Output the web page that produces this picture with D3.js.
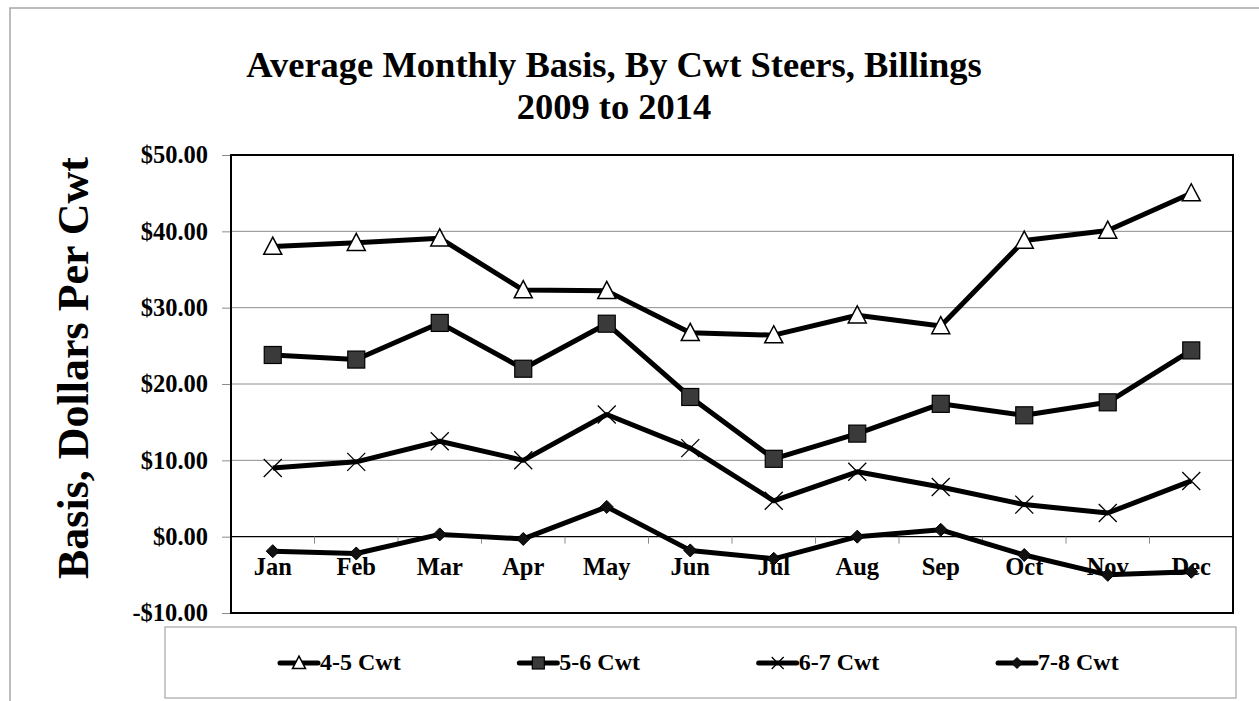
<!DOCTYPE html>
<html>
<head>
<meta charset="utf-8">
<script src="https://cdn.jsdelivr.net/npm/d3@7"></script>
<style>
  body { margin: 0; background: #fff; overflow: hidden; }
  svg { display: block; }
  text { font-family: "Liberation Serif", "Times New Roman", serif; font-weight: bold; fill: #000; }
</style>
</head>
<body>
<div id="chart"></div>
<script>
// ---------------- data ----------------
const months = ["Jan", "Feb", "Mar", "Apr", "May", "Jun", "Jul", "Aug", "Sep", "Oct", "Nov", "Dec"];
const cwt45 = [38.0, 38.5, 39.1, 32.3, 32.2, 26.7, 26.4, 29.0, 27.6, 38.8, 40.1, 45.0];
const cwt56 = [23.8, 23.2, 28.0, 22.0, 27.9, 18.3, 10.2, 13.5, 17.4, 15.9, 17.6, 24.4];
const cwt67 = [9.0, 9.8, 12.5, 10.0, 16.0, 11.6, 4.7, 8.5, 6.5, 4.2, 3.1, 7.3];
const cwt78 = [-1.9, -2.2, 0.3, -0.3, 3.9, -1.8, -2.9, 0.0, 0.9, -2.4, -5.0, -4.6];
const yTicks = [-10, 0, 10, 20, 30, 40, 50];
const seriesNames = ["4-5 Cwt", "5-6 Cwt", "6-7 Cwt", "7-8 Cwt"];
const series = [cwt45, cwt56, cwt67, cwt78];
const markerKinds = ["triangle", "square", "cross", "diamond"];

const W = 1259, H = 701;
const plot = { left: 231, right: 1233, top: 155, bottom: 613 };
const serif = "'Liberation Serif', 'Times New Roman', serif";

const svg = d3.select("#chart").append("svg")
    .attr("width", W)
    .attr("height", H);

// outer chart border
svg.append("rect")
    .attr("x", 10).attr("y", 8)
    .attr("width", W + 20).attr("height", H + 20)
    .attr("fill", "none")
    .attr("stroke", "#a6a6a6")
    .attr("stroke-width", 1.5);

const x = d3.scaleBand().domain(months).range([plot.left, plot.right]);
const y = d3.scaleLinear().domain([-10, 50]).range([plot.bottom, plot.top]);

function label(sel, size) {
    return sel.style("font-family", serif)
        .style("font-weight", "bold")
        .style("font-size", size + "px")
        .attr("fill", "#000");
}

// title
label(svg.append("text"), 36.5)
    .attr("x", 614).attr("y", 77)
    .attr("text-anchor", "middle")
    .text("Average Monthly Basis, By Cwt Steers, Billings");
label(svg.append("text"), 36.5)
    .attr("x", 614).attr("y", 119)
    .attr("text-anchor", "middle")
    .text("2009 to 2014");

// y axis title
label(svg.append("text"), 44)
    .attr("transform", "translate(88,368) rotate(-90)")
    .attr("text-anchor", "middle")
    .text("Basis, Dollars Per Cwt");

// gridlines
svg.append("g")
    .selectAll("line")
    .data(yTicks.filter(d => d !== 0 && d !== -10 && d !== 50))
    .join("line")
    .attr("x1", plot.left).attr("x2", plot.right)
    .attr("y1", d => y(d)).attr("y2", d => y(d))
    .attr("stroke", "#8c8c8c")
    .attr("stroke-width", 1);

// y axis
const yAxis = d3.axisLeft(y)
    .tickValues(yTicks)
    .tickSize(9)
    .tickPadding(14)
    .tickFormat(d => (d < 0 ? "-$" : "$") + Math.abs(d).toFixed(2));
const gy = svg.append("g")
    .attr("transform", `translate(${plot.left},0)`)
    .call(yAxis);
gy.select(".domain").remove();
gy.selectAll(".tick line").attr("stroke", "#8c8c8c");
label(gy.selectAll(".tick text"), 24.5);

// zero line with category ticks
svg.append("line")
    .attr("x1", plot.left).attr("x2", plot.right)
    .attr("y1", y(0)).attr("y2", y(0))
    .attr("stroke", "#000").attr("stroke-width", 1.2);
svg.append("g")
    .selectAll("line")
    .data(months.slice(1))
    .join("line")
    .attr("x1", d => x(d)).attr("x2", d => x(d))
    .attr("y1", y(0)).attr("y2", y(0) + 7)
    .attr("stroke", "#8c8c8c");

// month labels
label(svg.append("g")
    .selectAll("text")
    .data(months)
    .join("text"), 24.5)
    .attr("x", d => x(d) + x.bandwidth() / 2)
    .attr("y", 575)
    .attr("text-anchor", "middle")
    .text(d => d);

// plot frame
svg.append("rect")
    .attr("x", plot.left).attr("y", plot.top)
    .attr("width", plot.right - plot.left)
    .attr("height", plot.bottom - plot.top)
    .attr("fill", "none")
    .attr("stroke", "#000")
    .attr("stroke-width", 2);

// marker helper
function drawMarker(g, kind, cx, cy, s) {
    if (kind === "triangle") {
        const h = s * 0.95;
        g.append("path")
            .attr("d", `M${cx},${cy - h * 0.55} L${cx + s / 2},${cy + h * 0.45} L${cx - s / 2},${cy + h * 0.45} Z`)
            .attr("fill", "#fff").attr("stroke", "#000").attr("stroke-width", 1.5);
    } else if (kind === "square") {
        g.append("rect")
            .attr("x", cx - s / 2).attr("y", cy - s / 2)
            .attr("width", s).attr("height", s)
            .attr("fill", "#3a3a3a").attr("stroke", "#000").attr("stroke-width", 1.2);
    } else if (kind === "cross") {
        const r = s / 2;
        g.append("path")
            .attr("d", `M${cx - r},${cy - r} L${cx + r},${cy + r} M${cx - r},${cy + r} L${cx + r},${cy - r}`)
            .attr("stroke", "#000").attr("stroke-width", 1.3).attr("fill", "none");
    } else {
        const r = s / 2;
        g.append("path")
            .attr("d", `M${cx},${cy - r} L${cx + r},${cy} L${cx},${cy + r} L${cx - r},${cy} Z`)
            .attr("fill", "#111").attr("stroke", "#000").attr("stroke-width", 1);
    }
}

const markerSize = [18, 17, 18, 13];
const line = d3.line()
    .x((d, i) => x(months[i]) + x.bandwidth() / 2)
    .y(d => y(d));

series.forEach((vals, si) => {
    const g = svg.append("g");
    g.append("path")
        .datum(vals)
        .attr("d", line)
        .attr("fill", "none")
        .attr("stroke", "#000")
        .attr("stroke-width", 5)
        .attr("stroke-linejoin", "round");
    vals.forEach((v, i) => {
        drawMarker(g, markerKinds[si], x(months[i]) + x.bandwidth() / 2, y(v), markerSize[si]);
    });
});

// legend
svg.append("rect")
    .attr("x", 165).attr("y", 627)
    .attr("width", 1071).attr("height", 71)
    .attr("fill", "#fff")
    .attr("stroke", "#a6a6a6")
    .attr("stroke-width", 1.2);

const legendX = d3.scalePoint().domain(seriesNames).range([299, 1017]);
const legendSize = [13, 12, 12, 11];
seriesNames.forEach((name, si) => {
    const cx = legendX(name), cy = 663;
    const g = svg.append("g");
    g.append("line")
        .attr("x1", cx - 19).attr("x2", cx + 19)
        .attr("y1", cy).attr("y2", cy)
        .attr("stroke", "#000").attr("stroke-width", 5)
        .attr("stroke-linecap", "round");
    drawMarker(g, markerKinds[si], cx, cy, legendSize[si]);
    label(g.append("text"), 24)
        .attr("x", cx + 21).attr("y", cy + 7)
        .text(name);
});
</script>
</body>
</html>
